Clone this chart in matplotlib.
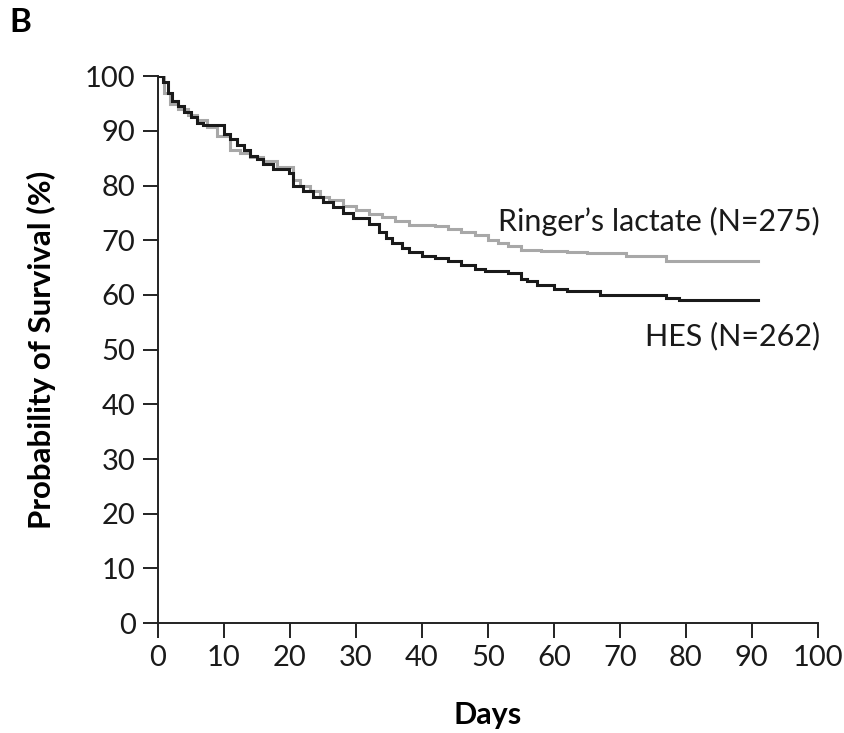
import matplotlib
matplotlib.use('Agg')
from matplotlib import pyplot as plt

# Kaplan-Meier step curves (day, % surviving)
hes_days = [0, 0.8, 1.5, 2.2, 3, 4, 5, 6, 6.8, 10, 11, 12, 13, 14, 15, 16, 17.5, 19.8,
            20.5, 22, 23.5, 25, 26.5, 28, 29.5, 32, 33.5, 34.5, 35.5, 37, 38, 40, 42,
            44, 46, 48, 49.5, 53, 55, 56, 57.5, 60, 62, 67, 77, 79, 91]
hes_surv = [100, 99, 97, 95.5, 94.5, 93.5, 92.5, 91.5, 91, 89.5, 88.5, 87.5, 86.5, 85.5,
            84.8, 84, 83, 82.3, 80, 79, 78, 77, 76, 75, 74, 73, 71.5, 70.5, 69.5, 68.5,
            67.8, 67.2, 66.7, 66.2, 65.5, 64.8, 64.3, 64, 63, 62.5, 61.8, 61, 60.8, 60,
            59.5, 59, 59]

rl_days = [0, 1, 1.8, 3, 4.5, 6, 7.4, 9, 11, 12.5, 14, 16, 18, 20.5, 21.5, 23, 24.5,
           26, 28, 30, 32, 34, 36, 38, 42, 44, 46, 48, 50, 51.5, 53, 55, 58, 62, 65,
           71, 77, 91]
rl_surv = [100, 97, 95, 94, 93, 92, 90.7, 89, 86.5, 86, 85.2, 84.5, 83.4, 81, 80,
           79, 78, 77.3, 76.3, 75.5, 74.8, 74.2, 73.5, 72.8, 72.6, 72, 71.5, 71, 70,
           69.5, 69, 68.2, 68, 67.8, 67.6, 67.1, 66.3, 66.3]

x_ticks = list(range(0, 101, 10))
y_ticks = list(range(0, 101, 10))

plt.rcParams['font.family'] = ['Lato', 'DejaVu Sans']

fig = plt.figure(figsize=(8.44, 7.33), dpi=100)
ax = fig.add_axes([0.187, 0.150, 0.782, 0.746])

ax.step(rl_days, rl_surv, where='post', color='#a8a8a8', lw=2.2, solid_joinstyle='miter')
ax.step(hes_days, hes_surv, where='post', color='#1a1a1a', lw=2.2, solid_joinstyle='miter')

ax.set_xlim(0, 100)
ax.set_ylim(0, 100)
ax.set_xticks(x_ticks)
ax.set_yticks(y_ticks)
for side in ('top', 'right'):
    ax.spines[side].set_visible(False)
for side in ('left', 'bottom'):
    ax.spines[side].set_linewidth(1.4)
    ax.spines[side].set_color('#222222')
ax.tick_params(direction='out', length=11, width=1.4, color='#222222',
               labelsize=21, labelcolor='#1a1a1a', pad=5)

ax.set_xlabel('Days', fontsize=22, fontweight='bold', va='center')
ax.xaxis.set_label_coords(0.5, -0.168)
ax.set_ylabel('Probability of Survival (%)', fontsize=22.5, fontweight='bold', va='center')
ax.yaxis.set_label_coords(-0.176, 0.5)

ax.text(100.3, 73.5, 'Ringer\u2019s lactate (N=275)', fontsize=22, ha='right', va='center',
        color='#1a1a1a')
ax.text(100.3, 52.5, 'HES (N=262)', fontsize=22, ha='right', va='center', color='#1a1a1a')

fig.text(0.011, 0.969, 'B', fontsize=24, fontweight='bold', ha='left', va='center')

fig.savefig('out.png', dpi=100)
